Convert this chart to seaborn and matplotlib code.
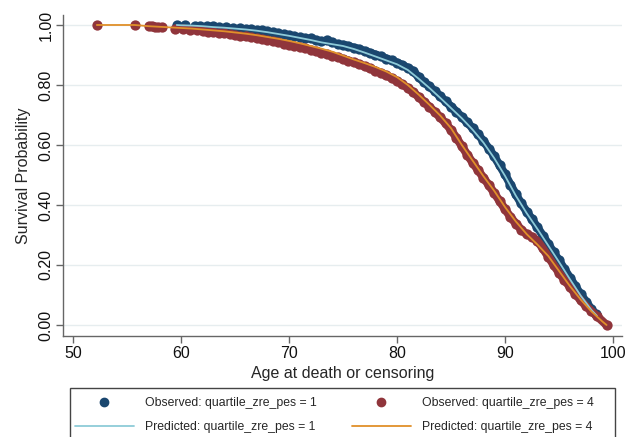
import pandas as pd
import seaborn as sns
import matplotlib.pyplot as plt
from matplotlib.lines import Line2D
from matplotlib.patches import Rectangle

# Observed (Kaplan-Meier) survival, quartile 1
obs1_age = [59.6, 60.4, 61.3, 61.8, 62.4, 63.0, 63.5, 64.2, 64.8, 65.5, 66.0, 66.5,
            67.0, 67.5, 68.0, 68.5, 69.0, 69.5, 70.0, 70.5, 71.0, 71.5, 72.0, 72.5,
            73.0, 73.5, 74.0, 74.5, 75.0, 75.5, 76.0, 76.5, 77.0, 77.5, 78.0, 78.5,
            79.0, 79.5, 80.0, 80.5, 81.0, 81.5, 82.0, 82.5, 83.0, 83.5, 84.0, 84.5,
            85.0, 85.5, 86.0, 86.5, 87.0, 87.5, 88.0, 88.5, 89.0, 89.5, 90.0, 90.5,
            91.0, 91.5, 92.0, 92.5, 93.0, 93.5, 94.0, 94.5, 95.0, 95.5, 96.0, 96.5,
            97.0, 97.5, 98.0, 98.4]
obs1_surv = [1.000, 0.999, 0.998, 0.997, 0.996, 0.995, 0.993, 0.992, 0.990, 0.989, 0.987, 0.986,
             0.984, 0.982, 0.980, 0.977, 0.974, 0.971, 0.968, 0.964, 0.961, 0.958, 0.955, 0.951,
             0.946, 0.949, 0.942, 0.937, 0.934, 0.929, 0.924, 0.919, 0.913, 0.907, 0.901, 0.895,
             0.888, 0.882, 0.874, 0.866, 0.857, 0.846, 0.826, 0.810, 0.795, 0.779, 0.762, 0.745,
             0.728, 0.711, 0.693, 0.675, 0.656, 0.635, 0.613, 0.588, 0.562, 0.532, 0.502, 0.468,
             0.435, 0.405, 0.378, 0.352, 0.325, 0.298, 0.270, 0.242, 0.215, 0.186, 0.158, 0.130,
             0.102, 0.078, 0.052, 0.035]

# Observed survival, quartile 4
obs4_age = [52.2, 55.7, 57.0, 57.3, 57.6, 57.9, 58.2, 59.4, 60.2, 60.8, 61.5, 62.0,
            62.5, 63.0, 63.5, 64.0, 64.5, 65.0, 65.5, 66.0, 66.5, 67.0, 67.5, 68.0,
            68.5, 69.0, 69.5, 70.0, 70.5, 71.0, 71.5, 72.0, 72.5, 73.0, 73.5, 74.0,
            74.5, 75.0, 75.5, 76.0, 76.5, 77.0, 77.5, 78.0, 78.5, 79.0, 79.5, 80.0,
            80.5, 81.0, 81.5, 82.0, 82.5, 83.0, 83.5, 84.0, 84.5, 85.0, 85.5, 86.0,
            86.5, 87.0, 87.5, 88.0, 88.5, 89.0, 89.5, 90.0, 90.5, 91.0, 91.5, 92.0,
            92.5, 93.0, 93.5, 94.0, 94.5, 95.0, 95.5, 96.0, 96.5, 97.0, 97.5, 98.0,
            98.5, 99.4]
obs4_surv = [1.000, 1.000, 0.996, 0.995, 0.994, 0.993, 0.992, 0.988, 0.986, 0.984, 0.982, 0.980,
             0.978, 0.976, 0.974, 0.972, 0.969, 0.967, 0.964, 0.962, 0.959, 0.956, 0.953, 0.950,
             0.946, 0.942, 0.938, 0.934, 0.930, 0.926, 0.922, 0.917, 0.912, 0.907, 0.902, 0.897,
             0.892, 0.887, 0.881, 0.875, 0.869, 0.862, 0.855, 0.848, 0.840, 0.832, 0.823, 0.813,
             0.802, 0.790, 0.776, 0.760, 0.744, 0.727, 0.710, 0.692, 0.672, 0.650, 0.624, 0.596,
             0.568, 0.541, 0.516, 0.491, 0.466, 0.440, 0.413, 0.386, 0.360, 0.338, 0.318, 0.302,
             0.294, 0.280, 0.255, 0.228, 0.200, 0.174, 0.150, 0.127, 0.104, 0.082, 0.063, 0.046,
             0.030, 0.000]

# Predicted survival curves
pred1_age = [59.6, 60, 61, 62, 63, 64, 65, 66, 67, 68, 69, 70, 71, 72, 73, 74, 75, 76, 77,
             78, 79, 80, 81, 82, 83, 84, 85, 86, 87, 88, 89, 90, 91, 92, 93, 94, 95, 96,
             97, 98, 98.5]
pred1_surv = [1.000, 0.999, 0.998, 0.996, 0.993, 0.991, 0.988, 0.985, 0.981, 0.976, 0.970,
              0.964, 0.957, 0.950, 0.942, 0.936, 0.930, 0.920, 0.908, 0.895, 0.882, 0.869,
              0.850, 0.821, 0.790, 0.757, 0.723, 0.689, 0.651, 0.608, 0.556, 0.497, 0.431,
              0.373, 0.320, 0.265, 0.210, 0.153, 0.098, 0.050, 0.031]
pred4_age = [52.2, 55.7, 57, 58, 59, 60, 61, 62, 63, 64, 65, 66, 67, 68, 69, 70, 71, 72, 73,
             74, 75, 76, 77, 78, 79, 80, 81, 82, 83, 84, 85, 86, 87, 88, 89, 90, 91, 92,
             93, 94, 95, 96, 97, 98, 99, 99.4]
pred4_surv = [1.000, 1.000, 0.996, 0.994, 0.992, 0.990, 0.988, 0.985, 0.982, 0.979, 0.975,
              0.971, 0.966, 0.960, 0.954, 0.947, 0.939, 0.930, 0.921, 0.911, 0.898, 0.885,
              0.873, 0.860, 0.845, 0.826, 0.800, 0.768, 0.734, 0.698, 0.656, 0.600, 0.548,
              0.496, 0.447, 0.393, 0.345, 0.303, 0.268, 0.230, 0.180, 0.130, 0.085, 0.045,
              0.012, 0.000]

navy = '#1a476f'
maroon = '#90353b'
ltblue = '#8ecbd8'
orange = '#e0902a'

obs1 = pd.DataFrame({'age': obs1_age, 'surv': obs1_surv})
obs4 = pd.DataFrame({'age': obs4_age, 'surv': obs4_surv})
pred1 = pd.DataFrame({'age': pred1_age, 'surv': pred1_surv})
pred4 = pd.DataFrame({'age': pred4_age, 'surv': pred4_surv})

sns.set_style('white')
plt.rcParams['font.family'] = ['Liberation Sans', 'DejaVu Sans']

fig = plt.figure(figsize=(6.25, 4.37), dpi=100)
ax = fig.add_axes([63 / 625, 1 - 336 / 437, 559 / 625, 321 / 437])

# observed points; where the curve gets steep a band of the same colour
# fills the gaps between the dots
for d, c in [(obs1, navy), (obs4, maroon)]:
    dense = d[d['age'] >= 75]
    sns.lineplot(data=dense, x='age', y='surv', color=c, lw=6, sort=False,
                 estimator=None, ax=ax, solid_capstyle='round')
    sns.scatterplot(data=d, x='age', y='surv', color=c, s=55, edgecolor=c,
                    linewidth=0, ax=ax)
sns.lineplot(data=pred1, x='age', y='surv', color=ltblue, lw=1.3, estimator=None, ax=ax)
sns.lineplot(data=pred4, x='age', y='surv', color=orange, lw=1.3, estimator=None, ax=ax)

ax.set_xlim(49.07, 100.83)
ax.set_ylim(-0.0367, 1.0333)
ax.set_xticks([50, 60, 70, 80, 90, 100])
ax.set_yticks([0, 0.2, 0.4, 0.6, 0.8, 1.0])
ax.set_yticklabels(['0.00', '0.20', '0.40', '0.60', '0.80', '1.00'],
                   rotation=90, va='center')
ax.yaxis.grid(True, color='#e6edef', lw=1)
ax.set_axisbelow(True)
for s in ['top', 'right']:
    ax.spines[s].set_visible(False)
for s in ['left', 'bottom']:
    ax.spines[s].set_color('#666666')
    ax.spines[s].set_linewidth(1)
ax.tick_params(axis='both', which='major', length=5, width=1, color='#666666',
               labelsize=11.5, labelcolor='#111111', direction='out', pad=2)
ax.tick_params(axis='both', bottom=True, left=True)
ax.set_xlabel('Age at death or censoring', fontsize=11.5, labelpad=4)
ax.set_ylabel('Survival Probability', fontsize=11.5, labelpad=5)

# legend box (runs past the bottom edge of the figure, as in the original)
fig.patches.append(Rectangle((70 / 625, -0.05), 545 / 625, 0.05 + 49 / 437,
                             transform=fig.transFigure, fill=False,
                             edgecolor='#444444', lw=1))
handles = [
    Line2D([], [], ls='none', marker='o', color=navy, markersize=6),
    Line2D([], [], color=ltblue, lw=1.3),
    Line2D([], [], ls='none', marker='o', color=maroon, markersize=6),
    Line2D([], [], color=orange, lw=1.3),
]
labels = ['Observed: quartile_zre_pes = 1', 'Predicted: quartile_zre_pes = 1',
          'Observed: quartile_zre_pes = 4', 'Predicted: quartile_zre_pes = 4']
fig.legend(handles, labels, ncol=2, loc='upper left',
           bbox_to_anchor=(75 / 625, 1 - 397 / 437),
           fontsize=8.8, frameon=False, handlelength=4.8, handletextpad=0.9,
           columnspacing=2.9, labelspacing=1.0, borderpad=0, borderaxespad=0)

fig.savefig('out.png', dpi=100)
